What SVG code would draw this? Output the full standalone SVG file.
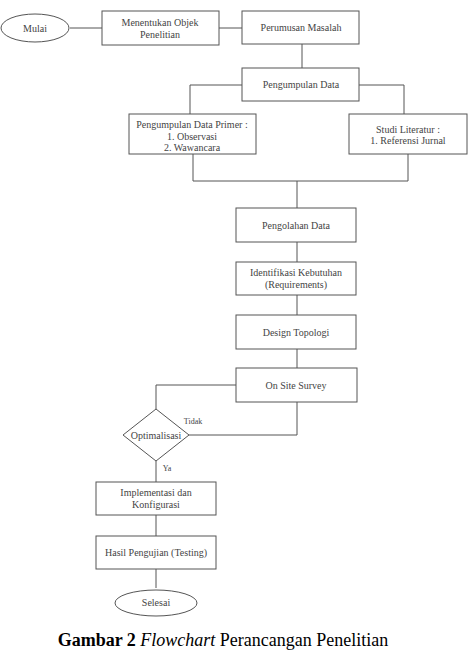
<svg xmlns="http://www.w3.org/2000/svg" width="470" height="652" viewBox="0 0 470 652">
<style>
.n{fill:#fff;stroke:#555;stroke-width:1}
.c{fill:none;stroke:#555;stroke-width:1}
text{font-family:"Liberation Serif","Times New Roman",serif;font-size:10px;fill:#444;text-anchor:middle}
.lbl{font-size:8px}
.cap{font-size:18px;fill:#000}
</style>
<rect width="470" height="652" fill="#fff"/>
<g id="connectors">
<path class="c" d="M70 28H102M219 28H242M302 44V68"/>
<path class="c" d="M242 85H190V114M359 85H404V114"/>
<path class="c" d="M193 154V181H408V154M297 181V208"/>
<path class="c" d="M297 242V262M297 295V315M297 349V368"/>
<path class="c" d="M236 385H156V409M189 435H297V402"/>
<path class="c" d="M156 461V482M156 515V536M156 569V588"/>
</g>
<g id="mulai"><ellipse class="n" cx="35" cy="28" rx="34" ry="14"/><text x="35" y="31.5">Mulai</text></g>
<g id="objek"><rect class="n" x="102" y="11" width="117" height="34"/><text x="160" y="26">Menentukan Objek</text><text x="160" y="37.5">Penelitian</text></g>
<g id="masalah"><rect class="n" x="242" y="11" width="117" height="33"/><text x="301" y="31">Perumusan Masalah</text></g>
<g id="pengumpulan"><rect class="n" x="242" y="68" width="117" height="33"/><text x="301" y="88">Pengumpulan Data</text></g>
<g id="primer"><rect class="n" x="129" y="114" width="127" height="40"/><text x="192" y="128">Pengumpulan Data Primer :</text><text x="192" y="139.5">1. Observasi</text><text x="192" y="151">2. Wawancara</text></g>
<g id="literatur"><rect class="n" x="349" y="114" width="118" height="40"/><text x="408" y="132.5">Studi Literatur :</text><text x="408" y="144">1. Referensi Jurnal</text></g>
<g id="pengolahan"><rect class="n" x="236" y="208" width="120" height="34"/><text x="296" y="228.5">Pengolahan Data</text></g>
<g id="identifikasi"><rect class="n" x="236" y="262" width="120" height="33"/><text x="296" y="276">Identifikasi Kebutuhan</text><text x="296" y="288">(Requirements)</text></g>
<g id="design"><rect class="n" x="236" y="315" width="120" height="34"/><text x="296" y="335.5">Design Topologi</text></g>
<g id="survey"><rect class="n" x="236" y="368" width="121" height="34"/><text x="296" y="388.5">On Site Survey</text></g>
<g id="optimalisasi"><polygon class="n" points="156,409 189,435 156,461 123,435"/><text x="156" y="438.5">Optimalisasi</text></g>
<text class="lbl" x="193" y="424">Tidak</text>
<text class="lbl" x="167" y="471">Ya</text>
<g id="implementasi"><rect class="n" x="96" y="482" width="120" height="33"/><text x="156" y="496">Implementasi dan</text><text x="156" y="508">Konfigurasi</text></g>
<g id="hasil"><rect class="n" x="96" y="536" width="120" height="33"/><text x="156" y="556">Hasil Pengujian (Testing)</text></g>
<g id="selesai"><ellipse class="n" cx="156" cy="603" rx="41" ry="13"/><text x="156" y="606">Selesai</text></g>
<text class="cap" x="223" y="646"><tspan font-weight="bold">Gambar 2</tspan> <tspan font-style="italic">Flowchart</tspan> Perancangan Penelitian</text>
</svg>
